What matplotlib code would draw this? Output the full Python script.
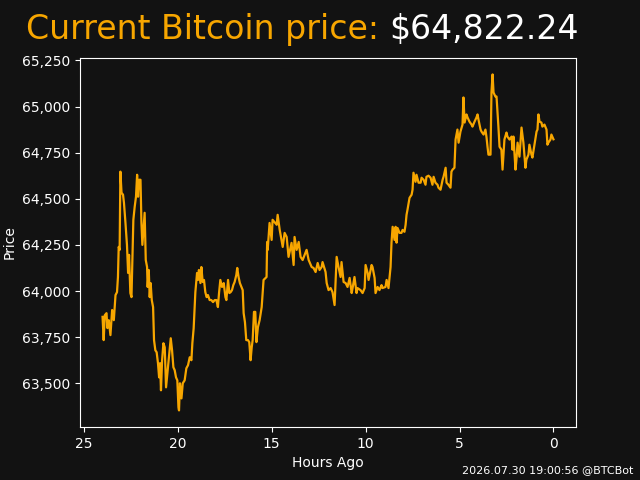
import matplotlib
matplotlib.use("Agg")
import matplotlib.pyplot as plt
from matplotlib.ticker import FuncFormatter

# Prix (heures avant maintenant, prix en USD)
hours_ago = [
    24.00, 23.94, 23.88, 23.79, 23.74, 23.67, 23.58, 23.49, 23.40, 23.31,
    23.23, 23.18, 23.14, 23.09, 23.05, 22.99, 22.91, 22.86, 22.78, 22.70,
    22.64, 22.59, 22.52, 22.46, 22.41, 22.36, 22.29, 22.22, 22.16, 22.11,
    22.06, 21.98, 21.93, 21.88, 21.81, 21.76, 21.70, 21.63, 21.60, 21.54,
    21.49, 21.44, 21.38, 21.31, 21.26, 21.19, 21.12, 21.05, 20.99, 20.94,
    20.89, 20.83, 20.76, 20.69, 20.62, 20.55, 20.48, 20.37, 20.30, 20.23,
    20.16, 20.09, 20.02, 19.96, 19.93, 19.88, 19.80, 19.73, 19.63, 19.54,
    19.45, 19.36, 19.27, 19.22, 19.15, 19.06, 18.97, 18.92, 18.87, 18.79,
    18.74, 18.67, 18.60, 18.53, 18.46, 18.39, 18.30, 18.21, 18.12, 18.03,
    17.94, 17.86, 17.80, 17.73, 17.64, 17.55, 17.46, 17.41, 17.32, 17.25,
    17.18, 17.11, 17.04, 16.97, 16.88, 16.83, 16.76, 16.69, 16.61, 16.54,
    16.49, 16.42, 16.35, 16.26, 16.19, 16.12, 16.06, 16.01, 15.94, 15.87,
    15.81, 15.73, 15.64, 15.53, 15.43, 15.27, 15.24, 15.21, 15.11, 15.00,
    14.95, 14.73, 14.68, 14.57, 14.41, 14.31, 14.20, 14.10, 13.94, 13.83,
    13.78, 13.67, 13.56, 13.46, 13.35, 13.24, 13.14, 13.03, 12.87, 12.77,
    12.66, 12.55, 12.45, 12.34, 12.29, 12.13, 12.07, 11.97, 11.86, 11.76,
    11.65, 11.54, 11.44, 11.33, 11.28, 11.17, 11.06, 10.96, 10.85, 10.74,
    10.69, 10.59, 10.48, 10.43, 10.27, 10.16, 10.05, 10.00, 9.89, 9.84,
    9.68, 9.63, 9.52, 9.47, 9.36, 9.26, 9.15, 9.10, 8.94, 8.88,
    8.78, 8.67, 8.62, 8.56, 8.46, 8.40, 8.35, 8.30, 8.19, 8.09,
    8.03, 7.93, 7.87, 7.82, 7.77, 7.66, 7.55, 7.50, 7.45, 7.34,
    7.29, 7.18, 7.07, 7.02, 6.91, 6.81, 6.76, 6.65, 6.54, 6.44,
    6.38, 6.28, 6.17, 6.12, 6.01, 5.90, 5.85, 5.74, 5.69, 5.59,
    5.48, 5.43, 5.37, 5.27, 5.21, 5.11, 5.05, 4.95, 4.84, 4.79,
    4.73, 4.63, 4.57, 4.47, 4.36, 4.31, 4.20, 4.10, 4.04, 3.99,
    3.88, 3.83, 3.72, 3.62, 3.56, 3.51, 3.46, 3.35, 3.30, 3.24,
    3.19, 3.09, 3.03, 2.93, 2.87, 2.77, 2.71, 2.61, 2.50, 2.45,
    2.34, 2.23, 2.18, 2.13, 2.02, 1.97, 1.91, 1.81, 1.70, 1.60,
    1.49, 1.44, 1.33, 1.28, 1.17, 1.12, 1.01, 0.90, 0.85, 0.80,
    0.74, 0.64, 0.59, 0.48, 0.37, 0.32, 0.27, 0.16, 0.11, 0.00,
]
prices = [
    63860, 63734, 63869, 63880, 63799, 63842, 63761, 63897, 63842, 63978,
    63994, 64076, 64239, 64223, 64647, 64533, 64522, 64478, 64369, 64250,
    64098, 64196, 63989, 63967, 64185, 64386, 64456, 64511, 64630, 64511,
    64603, 64603, 64369, 64250, 64348, 64424, 64168, 64130, 64022, 64114,
    63967, 64043, 63951, 63913, 63734, 63679, 63668, 63609, 63532, 63609,
    63462, 63625, 63717, 63695, 63478, 63554, 63625, 63744, 63679, 63587,
    63571, 63532, 63516, 63370, 63353, 63500, 63418, 63500, 63516, 63581,
    63598, 63641, 63625, 63717, 63799, 63994, 64098, 64060, 64114, 64043,
    64130, 64049, 64060, 63994, 63967, 63978, 63951, 63951, 63940, 63951,
    63951, 63913, 63989, 64060, 64022, 64043, 63967, 63951, 64060, 63989,
    63994, 64005, 64032, 64049, 64087, 64125, 64076, 64043, 64022, 64005,
    63880, 63831, 63734, 63734, 63723, 63625, 63695, 63734, 63887, 63887,
    63723, 63804, 63842, 63913, 64060, 64076, 64266, 64223, 64369, 64277,
    64386, 64359, 64413, 64331, 64239, 64315, 64293, 64185, 64261, 64141,
    64293, 64223, 64266, 64185, 64168, 64196, 64223, 64168, 64130, 64125,
    64103, 64152, 64114, 64130, 64157, 64103, 64043, 64005, 64016, 63994,
    63924, 64185, 64130, 64076, 64157, 64049, 64043, 64022, 64071, 63989,
    64016, 64076, 63989, 64016, 64005, 63989, 64016, 64141, 64098, 64060,
    64141, 64130, 64071, 63989, 64022, 64005, 64032, 64016, 64022, 64060,
    64016, 64130, 64262, 64348, 64277, 64348, 64262, 64342, 64315, 64315,
    64331, 64321, 64359, 64413, 64440, 64505, 64522, 64549, 64641, 64592,
    64630, 64587, 64587, 64614, 64603, 64576, 64619, 64625, 64614, 64576,
    64619, 64587, 64576, 64560, 64549, 64603, 64619, 64668, 64587, 64576,
    64560, 64647, 64658, 64668, 64821, 64875, 64804, 64864, 64902, 65049,
    64913, 64957, 64940, 64918, 64902, 64891, 64918, 64940, 64957, 64929,
    64875, 64864, 64848, 64875, 64831, 64782, 64739, 64739, 65076, 65174,
    65076, 65054, 65054, 64891, 64782, 64766, 64658, 64821, 64859, 64837,
    64821, 64837, 64766, 64837, 64658, 64712, 64804, 64728, 64886, 64804,
    64668, 64712, 64739, 64793, 64739, 64723, 64793, 64864, 64875, 64957,
    64918, 64913, 64891, 64902, 64875, 64793, 64804, 64821, 64848, 64822.24,
]
current_price = 64822.24
timestamp = "2026.07.30 19:00:56 @BTCBot"

orange = "#f7a600"
bg = "#121212"

fig, ax = plt.subplots(figsize=(6.4, 4.8), dpi=100)
fig.patch.set_facecolor(bg)
ax.set_facecolor(bg)

ax.plot(hours_ago, prices, color=orange, linewidth=1.6)
ax.invert_xaxis()

ax.yaxis.set_major_formatter(FuncFormatter(lambda v, p: f"{v:,.0f}"))
ax.set_xlabel("Hours Ago", color="white")
ax.set_ylabel("Price", color="white")
ax.tick_params(colors="white")
for s in ax.spines.values():
    s.set_color("white")

# Titre en deux couleurs
t1 = fig.text(0.041, 0.918, "Current Bitcoin price: ", color=orange,
              fontsize=23.9, va="baseline", ha="left")
fig.canvas.draw()
bb = t1.get_window_extent(renderer=fig.canvas.get_renderer())
fig.text(bb.x1 / fig.bbox.width, 0.918, f"${current_price:,.2f}",
         color="white", fontsize=23.9, va="baseline", ha="left")

fig.text(0.99, 0.01, timestamp, color="white", fontsize=8,
         ha="right", va="bottom")

fig.savefig("out.png", facecolor=bg)
